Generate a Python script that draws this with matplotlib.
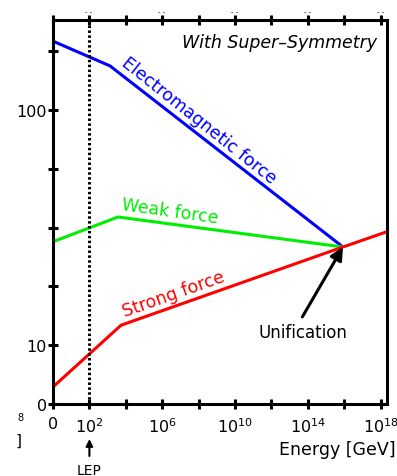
import numpy as np
import matplotlib
matplotlib.use("Agg")
import matplotlib.pyplot as plt

plt.rcParams["font.family"] = "DejaVu Sans"
plt.rcParams["mathtext.default"] = "regular"

# running couplings (inverse coupling, arbitrary linear units) vs energy in GeV
em_energy = [1e0, 10**3.13, 10**15.93]
em_inv_alpha = [61.7, 57.5, 26.7]

weak_energy = [1e0, 10**3.57, 10**15.93]
weak_inv_alpha = [27.6, 31.8, 26.7]

strong_energy = [1e0, 10**3.74, 10**15.93, 10**18.35]
strong_inv_alpha = [2.9, 13.4, 26.7, 29.3]

unif_energy = 10**15.93
unif_value = 26.7
lep_energy = 1e2

x_ticks = [10.0**k for k in range(0, 19, 2)]
x_ticklabels = ["0", "$10^{2}$", "", "$10^{6}$", "", "$10^{10}$", "",
                "$10^{14}$", "", "$10^{18}$"]
y_ticks = [0, 10, 20, 30, 40, 50, 60]
y_ticklabels = ["0", "10", "", "", "", "100", ""]

W, H = 397, 477
fig = plt.figure(figsize=(W / 100, H / 100), dpi=100)
ax = fig.add_axes([53 / W, 1 - 405 / H, 334 / W, 384 / H])

ax.set_xscale("log")
ax.set_xlim(1e0, 10**18.35)
ax.set_ylim(0, 65.3)

ax.plot(em_energy, em_inv_alpha, color="#0000ff", lw=2.2, solid_capstyle="butt")
ax.plot(weak_energy, weak_inv_alpha, color="#00ee00", lw=2.2, solid_capstyle="butt")
ax.plot(strong_energy, strong_inv_alpha, color="#ff0000", lw=2.2, solid_capstyle="butt")

ax.axvline(lep_energy, color="k", lw=2.2, ls=(0, (0.8, 0.8)))

ax.text(10**8.02, 48.3, "Electromagnetic force", color="#0000ff", fontsize=12.5,
        rotation=-38.5, ha="center", va="center", rotation_mode="anchor")
ax.text(10**6.43, 32.8, "Weak force", color="#00ee00", fontsize=12.5,
        rotation=-8, ha="center", va="center", rotation_mode="anchor")
ax.text(10**6.65, 18.8, "Strong force", color="#ff0000", fontsize=12.5,
        rotation=19.5, ha="center", va="center", rotation_mode="anchor")

ax.annotate("Unification", xy=(unif_energy, unif_value), xytext=(10**13.74, 12.2),
            fontsize=12, ha="center", va="center",
            arrowprops=dict(arrowstyle="-|>", color="k", lw=2.2,
                            mutation_scale=19, shrinkA=3, shrinkB=0,
                            relpos=(0.45, 1.0)))

ax.text(0.97, 0.943, "With Super\u2013Symmetry", transform=ax.transAxes,
        fontsize=12.5, style="italic", ha="right", va="center")

# LEP marker under the axis
ax.annotate("", xy=(lep_energy, 37 / H), xycoords=("data", "figure fraction"),
            xytext=(lep_energy, 20 / H), textcoords=("data", "figure fraction"),
            arrowprops=dict(arrowstyle="-|>", color="k", lw=1.5, mutation_scale=10,
                            shrinkA=0, shrinkB=0), annotation_clip=False)
ax.annotate("LEP", xy=(lep_energy, 6 / H), xycoords=("data", "figure fraction"),
            ha="center", va="center", fontsize=10, annotation_clip=False)

fig.text(396 / W, 1 - 450 / H, "Energy [GeV]", fontsize=12.5, ha="right", va="center")

# stray fragments around the frame
fig.text(20 / W, 1 - 418 / H, "8", fontsize=7, ha="center", va="center")
fig.text(19 / W, 1 - 441 / H, "]", fontsize=11, ha="center", va="center")
for px in [89, 162, 235, 308, 381]:
    fig.text(px / W, 1 - 12 / H, "- -", fontsize=5, ha="center", va="center")

ax.minorticks_off()
ax.set_xticks(x_ticks)
ax.set_xticklabels(x_ticklabels)
ax.set_yticks(y_ticks)
ax.set_yticklabels(y_ticklabels)
ax.tick_params(axis="x", which="major", direction="inout", length=7, width=2.2,
               top=True, labelsize=11.5, pad=5)
ax.tick_params(axis="y", which="major", direction="inout", length=7, width=2.2,
               right=False, labelsize=11.5, pad=1)
for s in ax.spines.values():
    s.set_linewidth(2.2)

fig.savefig("out.png", dpi=100)
